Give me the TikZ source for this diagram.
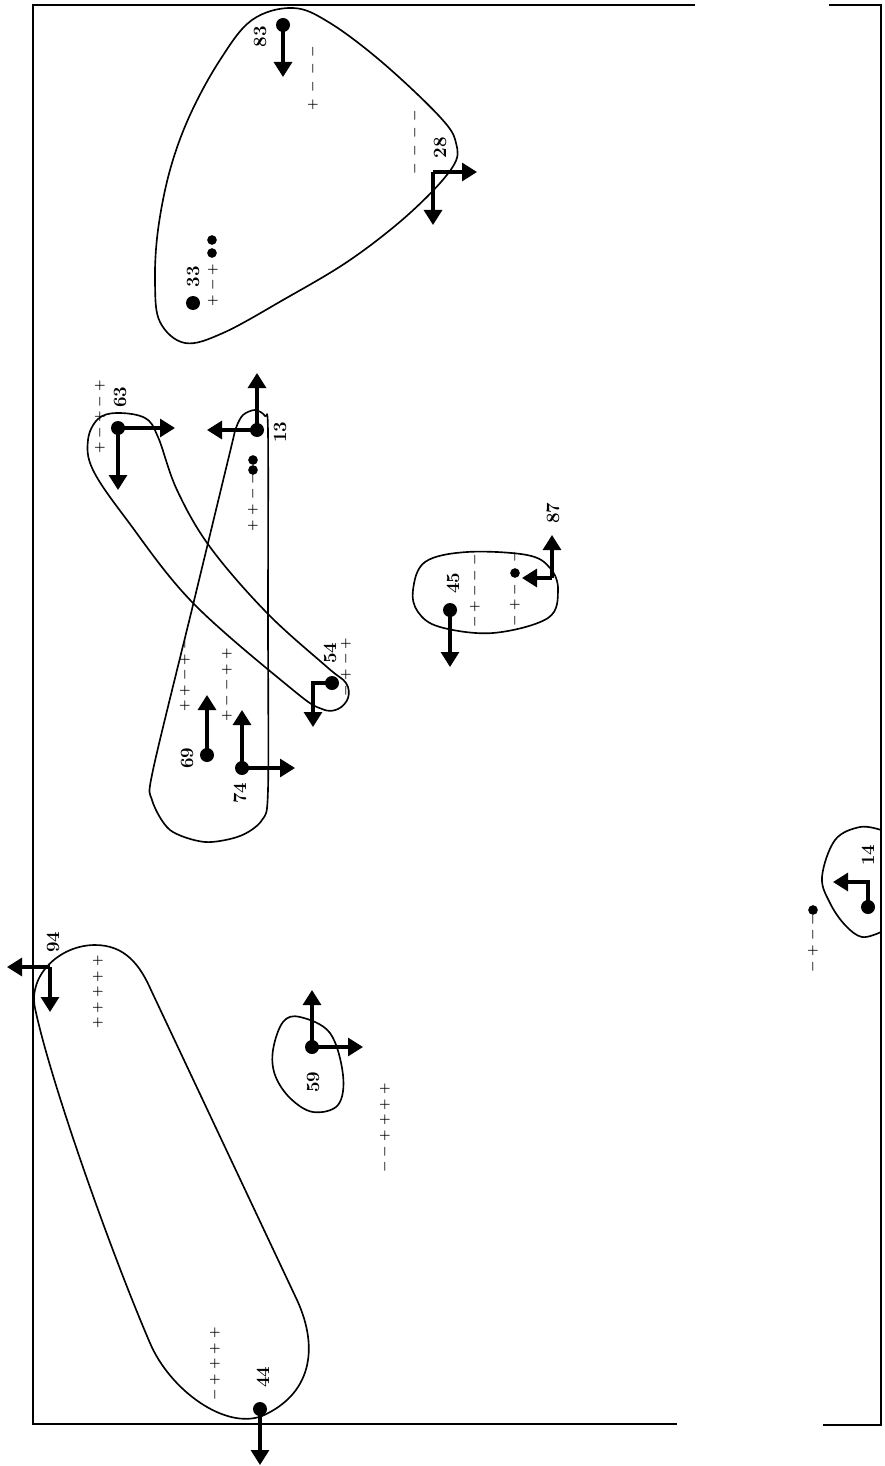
\documentclass[tikz,border=0pt]{standalone}
\usetikzlibrary{arrows.meta}

\begin{document}
\begin{tikzpicture}[x=0.03cm,y=-0.03cm,
	frame/.style={line width=1.5pt},
	blob/.style={line width=1.4pt},
	vec/.style={line width=2.6pt,-{Triangle[length=0.45cm,width=0.54cm]}},
	site/.style={circle,fill,inner sep=0pt,minimum size=0.42cm},
	bead/.style={circle,fill,inner sep=0pt,minimum size=0.29cm},
	lab/.style={rotate=90,inner sep=0pt,font=\fontsize{16}{16}\selectfont\bfseries},
	signs/.style={rotate=90,inner sep=0pt,font=\fontsize{10.5}{10.5}\selectfont\boldmath}]
	\useasboundingbox (0,0) rectangle (884,1466);
	% frame
	\draw[frame] (695,5) -- (33,5) -- (33,1424) -- (677,1424);
	\draw[frame] (829,5) -- (881,5) -- (881,1425) -- (823,1425);
	
	% outlines
	\draw[blob] plot[smooth cycle,tension=0.6] coordinates {(293,8) (330,23) (383,63) (440,117) (456,143) (452,168) (410,213) (350,260) (283,300) (223,333) (185,343) (160,322) (155,283) (158,230) (170,170) (190,115) (220,60) (252,20)};
	\draw[blob] plot[smooth cycle,tension=0.6] coordinates {(117,413) (145,418) (158,437) (177,490) (210,547) (267,613) (327,667) (346,683) (348,698) (338,709) (322,709) (293,690) (193,603) (127,520) (93,470) (88,440) (98,419)};
	\draw[blob] plot[smooth cycle,tension=0.5] coordinates {(236,428) (243,415) (255,410) (265,416) (268,432) (268,620) (268,790) (262,820) (240,836) (205,842) (170,830) (152,800) (153,770) (193,605) (230,452)};
	\draw[blob] plot[smooth cycle,tension=0.6] coordinates {(413,590) (425,562) (467,552) (527,555) (550,568) (558,590) (548,618) (493,633) (440,627) (418,612)};
	\draw[blob] plot[smooth cycle,tension=0.6] coordinates {(273,1050) (283,1022) (300,1017) (330,1033) (343,1075) (338,1105) (313,1112) (290,1098) (275,1075)};
	\draw[blob] (151,990) -- (297,1300) .. controls (320,1350) and (310,1395) .. (262,1416) .. controls (225,1430) and (170,1390) .. (150,1343) .. controls (110,1250) and (50,1080) .. (35,1008) .. controls (28,975) and (60,945) .. (95,945) .. controls (125,945) and (140,965) .. cycle;
	\draw[blob] plot[smooth,tension=0.6] coordinates {(881,830) (860,827) (835,840) (822,877) (830,903) (845,925) (862,937) (881,932)};
	
	% sites and moves
	\node[site] (n83) at (283,25) {};
	\draw[vec] (n83.center) -- ++(0,52);
	\node[lab] (l83) at (260,37) {83};
	\node[signs] (s83) at (313,78) {${+}\enspace{-}\enspace{-}\enspace{-}$};
	
	\coordinate (c28) at (433,172);
	\draw[vec] (c28) -- ++(44,0);
	\draw[vec] (c28) -- ++(0,53);
	\node[lab] (l28) at (440,148) {28};
	\node[signs] (s28) at (415,142) {${-}\enspace{-}\enspace{-}\enspace{-}$};
	
	\node[site] (n33) at (193,303) {};
	\node[lab] (l33) at (193,277) {33};
	\node[signs] (s33) at (213,285) {${+}\;{-}\;{+}$};
	\node[bead] (b33a) at (212,253) {};
	\node[bead] (b33b) at (212,240) {};
	
	\node[site] (n63) at (118,428) {};
	\draw[vec] (n63.center) -- ++(57,0);
	\draw[vec] (n63.center) -- ++(0,62);
	\node[lab] (l63) at (120,397) {63};
	\node[signs] (s63) at (100,417) {${+}\;{-}\;{+}\;{-}\;{+}$};
	
	\node[site] (n13) at (257,430) {};
	\draw[vec] (n13.center) -- ++(0,-57);
	\draw[vec] (n13.center) -- ++(-50,0);
	\node[lab] (l13) at (280,432) {13};
	\node[signs] (s13) at (253,502) {${+}\;{+}\;{-}\;{-}$};
	\node[bead] (b13a) at (253,470) {};
	\node[bead] (b13b) at (253,460) {};
	
	\node[site] (n69) at (207,755) {};
	\draw[vec] (n69.center) -- ++(0,-60);
	\node[lab] (l69) at (187,758) {69};
	\node[signs] (s69) at (185,675) {${+}\;{+}\;{-}\;{+}\;{-}$};
	
	\node[site] (n74) at (242,768) {};
	\draw[vec] (n74.center) -- ++(0,-58);
	\draw[vec] (n74.center) -- ++(53,0);
	\node[lab] (l74) at (240,793) {74};
	\node[signs] (s74) at (227,685) {${+}\;{-}\;{-}\;{+}\;{+}$};
	
	\node[site] (n54) at (332,683) {};
	\draw[vec] (n54.center) -- ++(-19,0) -- ++(0,44);
	\node[lab] (l54) at (330,653) {54};
	\node[signs] (s54) at (346,667) {${-}\;{+}\;{-}\;{+}$};
	
	\node[site] (n45) at (450,610) {};
	\draw[vec] (n45.center) -- ++(0,57);
	\node[lab] (l45) at (453,583) {45};
	\node[signs] (s45) at (475,591) {${-}\;{+}\;{-}\;{-}\;{-}$};
	
	\node[bead] (n87) at (515,573) {};
	\coordinate (c87) at (552,578);
	\draw[vec] (c87) -- ++(0,-43);
	\draw[vec] (c87) -- ++(-30,0);
	\node[lab] (l87) at (553,513) {87};
	\node[signs] (s87a) at (515,605) {${-}\;{+}\;{-}$};
	\node[signs] (s87b) at (515,557) {${-}$};
	
	\node[site] (n59) at (312,1047) {};
	\draw[vec] (n59.center) -- ++(0,-57);
	\draw[vec] (n59.center) -- ++(51,0);
	\node[lab] (l59) at (313,1082) {59};
	\node[signs] (s59) at (385,1128) {${-}\;{-}\;{+}\;{+}\;{+}\;{+}$};
	
	\coordinate (c94) at (50,967);
	\draw[vec] (c94) -- ++(-43,0);
	\draw[vec] (c94) -- ++(0,45);
	\node[lab] (l94) at (53,942) {94};
	\node[signs] (s94) at (98,992) {${+}\;{+}\;{+}\;{+}\;{+}$};
	
	\node[site] (n44) at (260,1409) {};
	\draw[vec] (n44.center) -- ++(0,56);
	\node[lab] (l44) at (263,1377) {44};
	\node[signs] (s44) at (215,1364) {${-}\;{+}\;{+}\;{+}\;{+}$};
	
	\node[site] (n14) at (868,907) {};
	\draw[vec] (n14.center) -- ++(0,-25) -- ++(-35,0);
	\node[lab] (l14) at (868,855) {14};
	\node[signs] (s14) at (813,943) {${-}\;{+}\;{-}\;{-}$};
	\node[bead] (b14) at (813,910) {};
\end{tikzpicture}
\end{document}
